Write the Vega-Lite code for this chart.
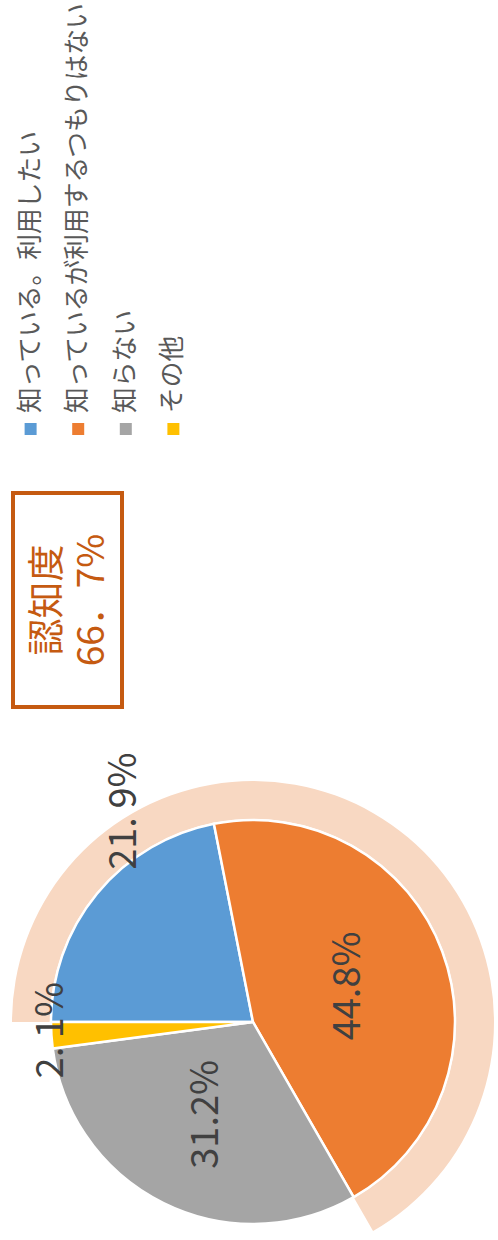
{
  "$schema": "https://vega.github.io/schema/vega-lite/v6.json",
  "padding": {"left": 11, "top": 1, "right": 0, "bottom": 0},
  "bounds": "flush",
  "spacing": 52,
  "background": "white",
  "config": {"view": {"stroke": null}, "font": "Noto Sans CJK JP"},
  "datasets": {
    "pie": [
      {"category": "知っている。利用したい", "value": 21.9, "label": "21. 9%", "idx": 1},
      {"category": "知っているが利用するつもりはない", "value": 44.8, "label": "44.8%", "idx": 2},
      {"category": "知らない", "value": 31.2, "label": "31.2%", "idx": 3},
      {"category": "その他", "value": 2.1, "label": "2. 1%", "idx": 4}
    ],
    "band": [
      {"group": "認知度", "value": 66.7}
    ],
    "box": [
      {"text": "認知度\n66．7%"}
    ]
  },
  "vconcat": [
    {
      "width": 178,
      "height": 24,
      "data": {"name": "pie"},
      "encoding": {
        "x": {"field": "category", "type": "nominal", "axis": null,
              "sort": ["知っている。利用したい", "知っているが利用するつもりはない", "知らない", "その他"],
              "scale": {"type": "point", "padding": 0.37}}
      },
      "layer": [
        {
          "mark": {"type": "square", "size": 144, "opacity": 1, "filled": true},
          "encoding": {
            "color": {"field": "category", "type": "nominal", "legend": null,
                      "scale": {"domain": ["知っている。利用したい", "知っているが利用するつもりはない", "知らない", "その他"],
                                "range": ["#5B9BD5", "#ED7D31", "#A5A5A5", "#FFC000"]}}
          }
        },
        {
          "mark": {"type": "text", "angle": 270, "align": "left", "baseline": "middle", "dx": 16, "fontSize": 25.75, "color": "#595959"},
          "encoding": {"text": {"field": "category", "type": "nominal"}}
        }
      ]
    },
    {
      "width": 109,
      "height": 214,
      "view": {"stroke": "#C55A11", "strokeWidth": 4},
      "data": {"name": "box"},
      "mark": {"type": "text", "angle": 270, "lineBreak": "\n", "lineHeight": 44, "fontSize": 37, "color": "#C55A11", "align": "center", "baseline": "middle", "dy": -18.5},
      "encoding": {"text": {"field": "text", "type": "nominal"}}
    },
    {
      "width": 480,
      "height": 526,
      "layer": [
        {
          "data": {"name": "band"},
          "mark": {"type": "arc", "radius": 241, "radius2": 203, "color": "#F8D8C2"},
          "encoding": {
            "theta": {"field": "value", "type": "quantitative", "stack": true,
                      "scale": {"range": [4.71238898038469, 10.995574287564276]}}
          }
        },
        {
          "data": {"name": "pie"},
          "mark": {"type": "arc", "radius": 202, "stroke": "white", "strokeWidth": 2.5},
          "encoding": {
            "theta": {"field": "value", "type": "quantitative", "stack": true},
            "order": {"field": "idx", "type": "quantitative"},
            "color": {"field": "category", "type": "nominal", "legend": null,
                      "scale": {"domain": ["知っている。利用したい", "知っているが利用するつもりはない", "知らない", "その他"],
                                "range": ["#5B9BD5", "#ED7D31", "#A5A5A5", "#FFC000"]}}
          }
        },
        {
          "data": {"name": "pie"},
          "mark": {"type": "text", "radius": 103, "angle": 270, "fontSize": 38, "color": "#404040", "align": "center", "baseline": "middle"},
          "encoding": {
            "theta": {"field": "value", "type": "quantitative", "stack": true},
            "order": {"field": "idx", "type": "quantitative"},
            "text": {"condition": {"test": "datum.idx == 2 || datum.idx == 3", "field": "label"}, "value": ""}
          }
        },
        {
          "data": {"name": "pie"},
          "mark": {"type": "text", "radius": 201, "angle": 270, "fontSize": 38, "color": "#404040", "align": "center", "baseline": "middle", "dx": 5},
          "encoding": {
            "theta": {"field": "value", "type": "quantitative", "stack": true},
            "order": {"field": "idx", "type": "quantitative"},
            "text": {"condition": {"test": "datum.idx == 4", "field": "label"}, "value": ""}
          }
        },
        {
          "data": {"name": "pie"},
          "mark": {"type": "text", "radius": 247, "angle": 270, "fontSize": 38, "color": "#404040", "align": "center", "baseline": "middle", "dx": 54, "dy": 63},
          "encoding": {
            "theta": {"field": "value", "type": "quantitative", "stack": true},
            "order": {"field": "idx", "type": "quantitative"},
            "text": {"condition": {"test": "datum.idx == 1", "field": "label"}, "value": ""}
          }
        }
      ]
    }
  ]
}
